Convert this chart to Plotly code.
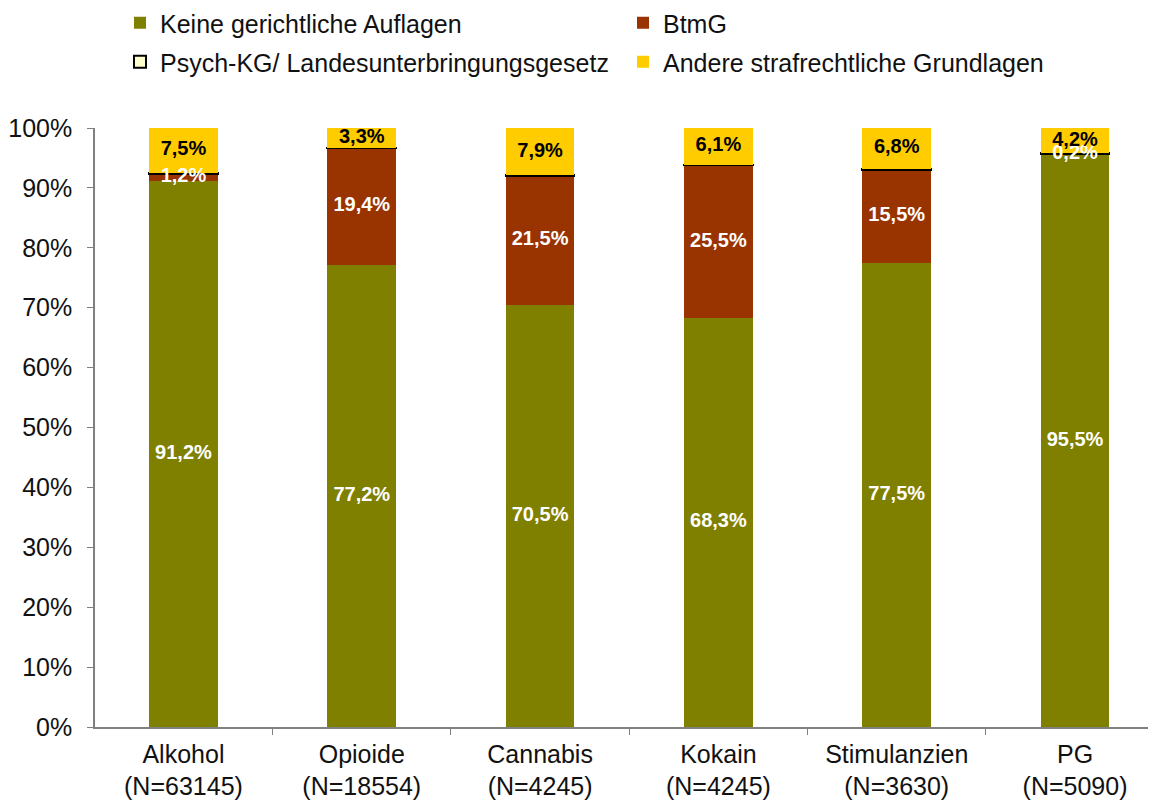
import numpy as np
import plotly.graph_objects as go

categories = ["Alkohol<br>(N=63145)", "Opioide<br>(N=18554)", "Cannabis<br>(N=4245)",
              "Kokain<br>(N=4245)", "Stimulanzien<br>(N=3630)", "PG<br>(N=5090)"]
keine = [91.2, 77.2, 70.5, 68.3, 77.5, 95.5]
btmg = [1.2, 19.4, 21.5, 25.5, 15.5, 0.2]
psych = [0.1, 0.1, 0.1, 0.1, 0.2, 0.1]
andere = [7.5, 3.3, 7.9, 6.1, 6.8, 4.2]

names = ["Keine gerichtliche Auflagen", "BtmG",
         "Psych-KG/ Landesunterbringungsgesetz", "Andere strafrechtliche Grundlagen"]
colors = ["#808000", "#993300", "#FFFFCC", "#FFCC00"]
series = [keine, btmg, psych, andere]
legends = ["legend", "legend", "legend2", "legend2"]

FONT = "Liberation Sans, Arial, sans-serif"
fig = go.Figure()
for name, vals, col, lg in zip(names, series, colors, legends):
    is_psych = name.startswith("Psych")
    fig.add_trace(go.Bar(
        x=categories, y=vals, name=name, width=0.385,
        marker=dict(color=col,
                    line=dict(color="black" if is_psych else col, width=2 if is_psych else 0)),
        legend=lg, hoverinfo="skip",
    ))

# value labels at segment midpoints
arr = np.array(series)
cum = np.cumsum(arr, axis=0)
mid = cum - arr / 2
label_specs = [(0, "white"), (1, "white"), (3, "black")]
for idx, col in label_specs:
    fig.add_trace(go.Scatter(
        x=categories, y=mid[idx], mode="text",
        text=[f"{v:.1f}%".replace(".", ",") for v in series[idx]],
        textfont=dict(family=FONT, size=20, color=col, weight="bold"),
        showlegend=False, hoverinfo="skip",
    ))

leg_common = dict(orientation="h", xref="container", yref="container",
                  xanchor="left", yanchor="middle", traceorder="normal",
                  entrywidth=458, entrywidthmode="pixels", itemwidth=30,
                  font=dict(size=25, family=FONT, color="#111"),
                  bgcolor="rgba(0,0,0,0)")

fig.update_layout(
    width=1156, height=803,
    barmode="stack",
    plot_bgcolor="white", paper_bgcolor="white",
    margin=dict(l=87, r=8, t=120, b=84, autoexpand=False),
    font=dict(family=FONT, size=25, color="black"),
    xaxis=dict(range=[-0.496, 5.454], showline=True, linecolor="#808080", linewidth=1.5,
               ticks="outside", tickson="boundaries", ticklen=6, tickcolor="#808080",
               ticklabelstandoff=4,
               tickfont=dict(size=25, family=FONT, color="#111")),
    yaxis=dict(range=[0, 100], dtick=10, ticksuffix="%", showgrid=False,
               showline=True, linecolor="#808080", linewidth=1.5,
               ticks="outside", ticklen=6, tickcolor="#808080",
               ticklabelstandoff=10,
               tickfont=dict(size=25, family=FONT, color="#111"), zeroline=False),
    legend=dict(leg_common, x=112 / 1156, y=1 - 15 / 803),
    legend2=dict(leg_common, x=112 / 1156, y=1 - 54 / 803),
)

fig.write_html("out.html")
